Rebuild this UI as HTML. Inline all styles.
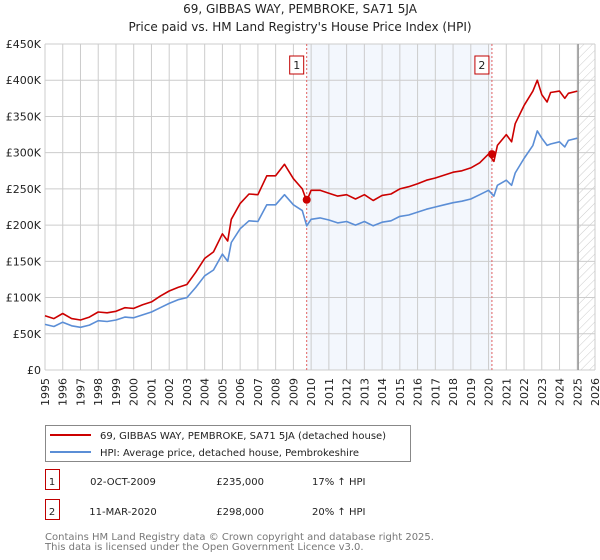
<!DOCTYPE html>
<html><head><meta charset="utf-8">
<style>
body{margin:0;background:#fff;font-family:"DejaVu Sans","Liberation Sans",sans-serif;}
#wrap{position:relative;width:600px;height:560px;overflow:hidden;}
svg text{font-family:"DejaVu Sans","Liberation Sans",sans-serif;}
</style></head>
<body>
<div id="wrap">
<svg id="chart" width="600" height="560"></svg>
</div>
<script>
const yearTicks=[1995,1996,1997,1998,1999,2000,2001,2002,2003,2004,2005,2006,2007,2008,2009,2010,2011,2012,2013,2014,2015,2016,2017,2018,2019,2020,2021,2022,2023,2024,2025,2026];
const yTicks=[0,50,100,150,200,250,300,350,400,450];
const yTickLabels=["£0","£50K","£100K","£150K","£200K","£250K","£300K","£350K","£400K","£450K"];
const hpiDates=[1995.0,1995.5,1996.0,1996.5,1997.0,1997.5,1998.0,1998.5,1999.0,1999.5,2000.0,2000.5,2001.0,2001.5,2002.0,2002.5,2003.0,2003.5,2004.0,2004.5,2005.0,2005.3,2005.5,2006.0,2006.5,2007.0,2007.5,2008.0,2008.5,2009.0,2009.5,2009.75,2010.0,2010.5,2011.0,2011.5,2012.0,2012.5,2013.0,2013.5,2014.0,2014.5,2015.0,2015.5,2016.0,2016.5,2017.0,2017.5,2018.0,2018.5,2019.0,2019.5,2020.0,2020.3,2020.5,2021.0,2021.3,2021.5,2022.0,2022.5,2022.75,2023.0,2023.3,2023.5,2024.0,2024.3,2024.5,2025.0];
const hpiValues=[63,60,66,61,59,62,68,67,69,73,72,76,80,86,92,97,100,114,130,138,160,150,176,195,206,205,228,228,242,228,220,199,208,210,207,203,205,200,205,199,204,206,212,214,218,222,225,228,231,233,236,242,248,240,255,262,255,272,292,310,330,320,310,312,315,308,317,320];
const priceValues=[75,71,78,71,69,73,80,79,81,86,85,90,94,102,109,114,118,135,154,163,188,178,208,230,243,242,268,268,284,264,250,233,248,248,244,240,242,236,242,234,241,243,250,253,257,262,265,269,273,275,279,286,298,288,310,325,315,340,365,385,400,380,370,383,385,375,382,385];
const saleDates=[2009.75,2020.19];
const salePrices=[235,298];

const NS="http://www.w3.org/2000/svg";
const svg=document.getElementById('chart');
const L=45,R=595,T=44,B=370;
const x=d=>L+(d-1995)/(2026-1995)*(R-L);
const y=v=>B-v/450*(B-T);
function mk(tag,attrs,parent){const e=document.createElementNS(NS,tag);for(const k in attrs)e.setAttribute(k,attrs[k]);(parent||svg).appendChild(e);return e;}

// title
let t=mk('text',{x:300,y:13,'text-anchor':'middle','font-size':12,fill:'#222'});t.textContent="69, GIBBAS WAY, PEMBROKE, SA71 5JA";


t=mk('text',{x:300,y:31,'text-anchor':'middle','font-size':12,fill:'#222'});t.textContent="Price paid vs. HM Land Registry's House Price Index (HPI)";



// shaded region between sales
let sh=mk('rect',{x:x(saleDates[0]),y:T,width:x(saleDates[1])-x(saleDates[0]),height:B-T,fill:'#eef3fc',opacity:0.7});


// hatch
const defs=mk('defs',{});
const pat=mk('pattern',{id:'hatch',width:6,height:6,patternUnits:'userSpaceOnUse',patternTransform:'rotate(45)'},defs);
mk('line',{x1:0,y1:0,x2:0,y2:6,stroke:'#ccc','stroke-width':1},pat);
let hx=x(2025.05);
let hr=mk('rect',{x:hx,y:T,width:R-hx,height:B-T,fill:'url(#hatch)'});



// gridlines
yearTicks.forEach(yr=>{mk('line',{x1:x(yr),x2:x(yr),y1:T,y2:B,stroke:'#cccccc','stroke-width':1});
 const lb=mk('text',{transform:`translate(${x(yr)+4},${B+8}) rotate(-90)`,'text-anchor':'end','font-size':11,fill:'#222'});lb.textContent=yr;
 
 });
yTicks.forEach((v,i)=>{mk('line',{x1:L,x2:R,y1:y(v),y2:y(v),stroke:'#cccccc','stroke-width':1});
 const lb=mk('text',{x:L-4,y:y(v)+4,'text-anchor':'end','font-size':11,fill:'#222'});lb.textContent=yTickLabels[i];
 
 });
mk('line',{x1:hx,x2:hx,y1:T,y2:B,stroke:'#999','stroke-width':1.5});

// sale vlines
saleDates.forEach((d,i)=>{mk('line',{x1:x(d),x2:x(d),y1:T,y2:B,stroke:'#e06060','stroke-width':1,'stroke-dasharray':'2,2'});
 const g=mk('g',{});
 
 
 mk('rect',{x:x(d)-17,y:56,width:14,height:18,fill:'#fff',stroke:'#c00000','stroke-width':1},g);
 const tt=mk('text',{x:x(d)-10,y:69,'text-anchor':'middle','font-size':11,fill:'#222'},g);tt.textContent=i+1;});

function line(vals,color,name){const p=hpiDates.map((d,i)=>(i?'L':'M')+x(d).toFixed(1)+','+y(vals[i]).toFixed(1)).join('');
 const e=mk('path',{d:p,fill:'none',stroke:color,'stroke-width':1.6,'stroke-linejoin':'round'});
 
 }
line(hpiValues,'#5b8ed6','hpi-line');
line(priceValues,'#cc0000','price-paid-line');
saleDates.forEach((d,i)=>{const c=mk('circle',{cx:x(d),cy:y(salePrices[i]),r:4,fill:'#cc0000'});
 
 });

// legend
const lg=mk('g',{});


mk('rect',{x:45.5,y:425.5,width:365,height:36,fill:'#fff',stroke:'#888'},lg);
mk('line',{x1:50,x2:91,y1:435,y2:435,stroke:'#cc0000','stroke-width':2},lg);
mk('line',{x1:50,x2:91,y1:452,y2:452,stroke:'#5b8ed6','stroke-width':2},lg);
t=mk('text',{x:100,y:439,'font-size':10,fill:'#222'},lg);t.textContent="69, GIBBAS WAY, PEMBROKE, SA71 5JA (detached house)";
t=mk('text',{x:100,y:456,'font-size':10,fill:'#222'},lg);t.textContent="HPI: Average price, detached house, Pembrokeshire";

// table
const rows=[["1","02-OCT-2009","£235,000","17% ↑ HPI",483],["2","11-MAR-2020","£298,000","20% ↑ HPI",513]];
rows.forEach(r=>{const g=mk('g',{});
 
 
 mk('rect',{x:45.5,y:r[4]-13.5,width:14,height:20,fill:'#fff',stroke:'#c00000'},g);
 let a=mk('text',{x:52,y:r[4]+2,'text-anchor':'middle','font-size':10,fill:'#222'},g);a.textContent=r[0];
 a=mk('text',{x:123,y:r[4]+2,'text-anchor':'middle','font-size':10,fill:'#222'},g);a.textContent=r[1];
 a=mk('text',{x:264,y:r[4]+2,'text-anchor':'end','font-size':10,fill:'#222'},g);a.textContent=r[2];
 a=mk('text',{x:312,y:r[4]+2,'font-size':10,fill:'#222'},g);a.textContent=r[3];});
t=mk('text',{x:45,y:540,'font-size':10,fill:'#777'});t.textContent="Contains HM Land Registry data © Crown copyright and database right 2025.";


t=mk('text',{x:45,y:550,'font-size':10,fill:'#777'});t.textContent="This data is licensed under the Open Government Licence v3.0.";


</script>
</body></html>
